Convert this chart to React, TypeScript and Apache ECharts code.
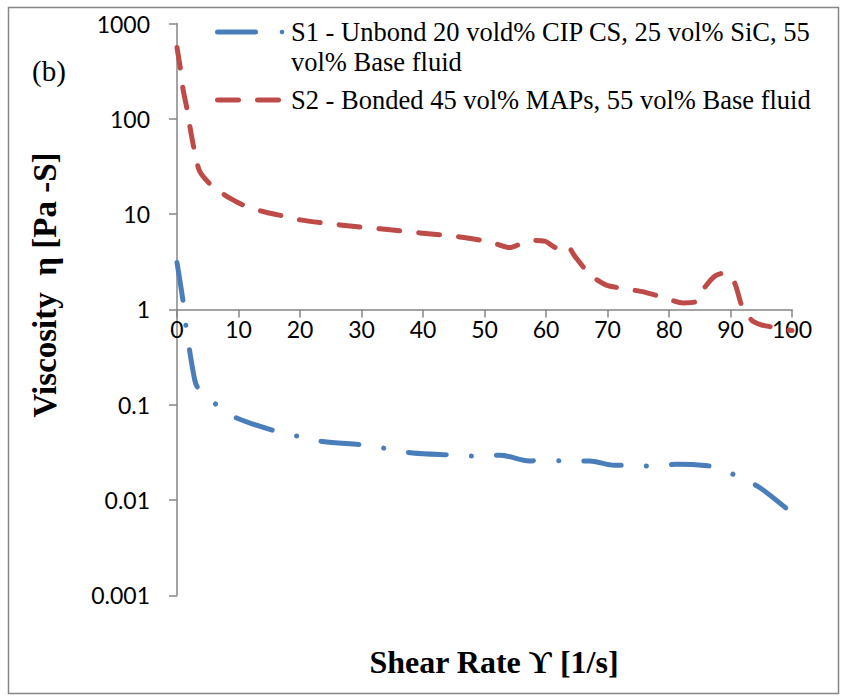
import React, { useEffect, useRef } from "react";
import * as echarts from "echarts";

const s1Name = "S1 - Unbond 20 vold% CIP CS, 25 vol% SiC, 55 vol% Base fluid";
const s2Name = "S2 - Bonded 45 vol% MAPs, 55 vol% Base fluid";

const s1X = [0, 1, 1.5, 2.9, 3.7, 6.6, 9.8, 16.4, 20.1, 23.7, 30.6, 34.3, 38.3, 44.8, 48.7, 52.6, 57.3, 59.3, 63, 67.1, 71.1, 73.7, 77.4, 81.3, 86.3, 88, 91.5, 94.9, 100];
const s1Y = [3.1, 1.2, 0.64, 0.18, 0.14, 0.098, 0.072, 0.052, 0.046, 0.041, 0.0376, 0.0344, 0.0312, 0.0297, 0.0288, 0.0295, 0.0257, 0.0263, 0.0257, 0.0257, 0.0232, 0.0232, 0.0226, 0.0237, 0.0229, 0.0216, 0.0173, 0.0133, 0.0073];

const s2X = [0, 0.5, 1, 1.6, 2.2, 2.9, 3.7, 5.6, 8.6, 11.3, 14.6, 17.8, 20, 26.5, 33, 39.5, 46, 50.9, 54.1, 57.4, 59.8, 61.8, 63.3, 64.7, 67.2, 69.8, 72.8, 76, 79.3, 82.3, 84.3, 85.8, 87.5, 89.2, 90.7, 91.8, 93.4, 95, 97, 100];
const s2Y = [560, 353, 201, 129, 76, 44, 28, 20, 14.7, 12, 10.4, 9.4, 8.7, 7.7, 7.0, 6.35, 5.76, 5.1, 4.45, 5.3, 5.2, 4.4, 4.75, 3.6, 2.3, 1.8, 1.65, 1.52, 1.32, 1.17, 1.2, 1.7, 2.25, 2.42, 1.88, 1.11, 0.776, 0.69, 0.65, 0.6];

const xTicks = { min: 0, max: 100, interval: 10 };
const yTicks = { min: 0.001, max: 1000 };

const S1_COLOR = "#4A7EBB";
const S2_COLOR = "#BE4B48";
const AXIS_COLOR = "#868686";
const SERIF = "'Liberation Serif', 'Times New Roman', Times, serif";

export default function App() {
  const ref = useRef<HTMLDivElement>(null);
  useEffect(() => {
    document.body.style.margin = "0";
    const chart = echarts.init(ref.current!, null, { renderer: "svg" });
    const fmt = (v: number) => String(Number(v.toPrecision(6)));
    chart.setOption({
      animation: false,
      backgroundColor: "#ffffff",
      grid: { left: 177, right: 52, top: 23.5, bottom: 100.7 },
      xAxis: {
        type: "value",
        min: xTicks.min,
        max: xTicks.max,
        interval: xTicks.interval,
        offset: -285.8,
        axisLine: { onZero: false, lineStyle: { color: AXIS_COLOR, width: 1.5 } },
        axisTick: { show: true, inside: false, length: 8, lineStyle: { color: AXIS_COLOR, width: 1.5 } },
        axisLabel: { margin: 8, color: "#000", fontSize: 23, fontFamily: "Lato" },
        splitLine: { show: false },
      },
      yAxis: {
        type: "log",
        logBase: 10,
        min: yTicks.min,
        max: yTicks.max,
        axisLine: { show: true, lineStyle: { color: AXIS_COLOR, width: 1.5 } },
        axisTick: { show: true, inside: false, length: 8, lineStyle: { color: AXIS_COLOR, width: 1.5 } },
        axisLabel: { margin: 27, color: "#000", fontSize: 23, fontFamily: "Lato", formatter: fmt },
        splitLine: { show: false },
        minorTick: { show: false },
      },
      series: [
        {
          name: s1Name,
          type: "line",
          smooth: 0.3,
          symbol: "none",
          data: s1X.map((x, i) => [x, s1Y[i]]),
          lineStyle: { color: S1_COLOR, width: 5, type: [38, 25, 0.1, 25], cap: "round", join: "round" },
          z: 3,
        },
        {
          name: s2Name,
          type: "line",
          smooth: 0.25,
          symbol: "none",
          data: s2X.map((x, i) => [x, s2Y[i]]),
          lineStyle: { color: S2_COLOR, width: 5, type: [21, 19], cap: "round", join: "round" },
          z: 2,
        },
      ],
      graphic: [
        {
          type: "rect",
          shape: { x: 8.5, y: 7.5, width: 830, height: 686 },
          style: { fill: "none", stroke: AXIS_COLOR, lineWidth: 1.5 },
          silent: true,
        },
        {
          type: "line",
          shape: { x1: 217.5, y1: 32, x2: 255.5, y2: 32 },
          style: { stroke: S1_COLOR, lineWidth: 5, lineCap: "round" },
        },
        {
          type: "circle",
          shape: { cx: 282, cy: 32, r: 2.3 },
          style: { fill: S1_COLOR },
        },
        {
          type: "line",
          shape: { x1: 217.5, y1: 100, x2: 238.5, y2: 100 },
          style: { stroke: S2_COLOR, lineWidth: 5, lineCap: "round" },
        },
        {
          type: "line",
          shape: { x1: 257.5, y1: 100, x2: 278.5, y2: 100 },
          style: { stroke: S2_COLOR, lineWidth: 5, lineCap: "round" },
        },
        {
          type: "text",
          x: 291,
          y: 47,
          style: {
            text: "S1 - Unbond 20 vold% CIP CS, 25 vol% SiC, 55\nvol% Base fluid",
            font: "26.5px " + SERIF,
            lineHeight: 30,
            fill: "#000",
            verticalAlign: "middle",
            align: "left",
          },
        },
        {
          type: "text",
          x: 291,
          y: 100,
          style: {
            text: s2Name,
            font: "26.5px " + SERIF,
            fill: "#000",
            verticalAlign: "middle",
            align: "left",
          },
        },
        {
          type: "text",
          x: 49,
          y: 71,
          style: { text: "(b)", font: "29px " + SERIF, fill: "#000", align: "center", verticalAlign: "middle" },
        },
        {
          type: "text",
          x: 45,
          y: 285,
          rotation: Math.PI / 2,
          style: {
            text: "Viscosity  η [Pa -S]",
            font: "bold 33px " + SERIF,
            fill: "#000",
            align: "center",
            verticalAlign: "middle",
          },
        },
        {
          type: "text",
          x: 494,
          y: 662,
          style: {
            text: "Shear Rate ϒ [1/s]",
            font: "bold 32px " + SERIF,
            fill: "#000",
            align: "center",
            verticalAlign: "middle",
          },
        },
      ],
    });
    return () => chart.dispose();
  }, []);
  return <div ref={ref} style={{ width: 844, height: 696 }} />;
}
